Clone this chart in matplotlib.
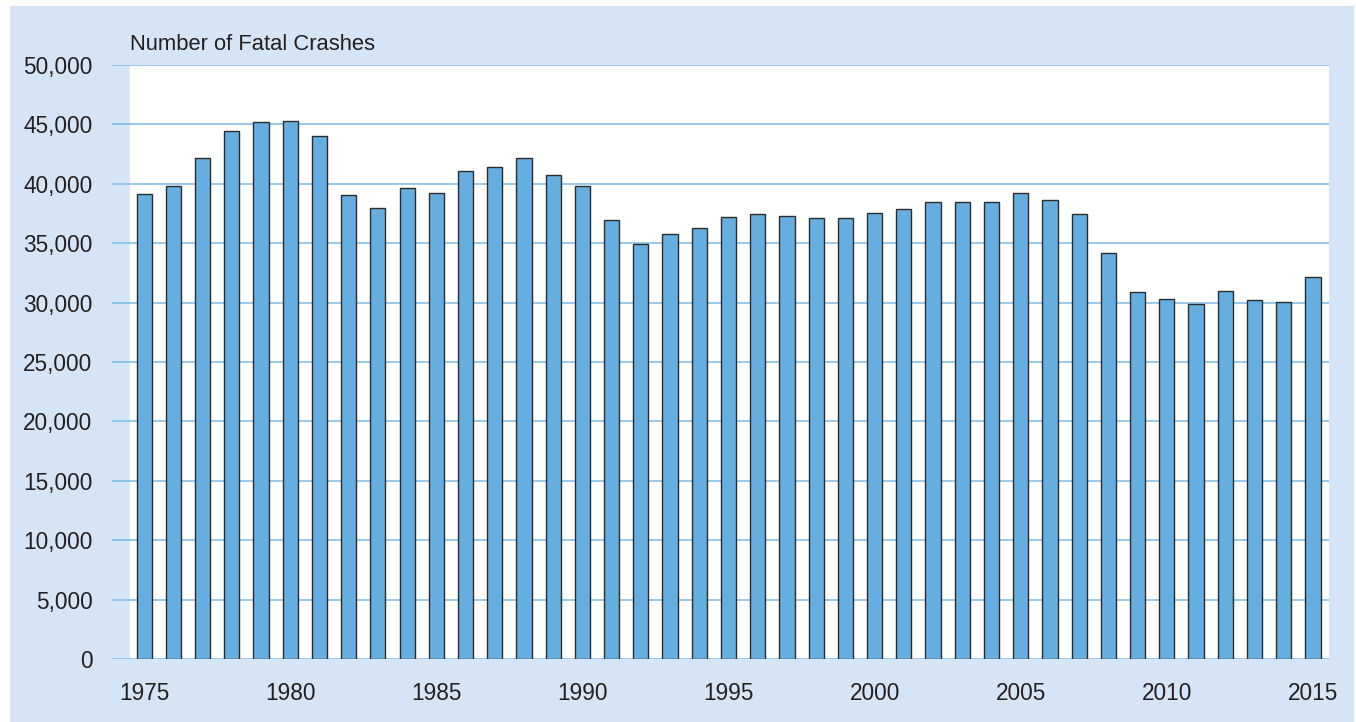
import matplotlib.pyplot as plt
from matplotlib.patches import Rectangle
from matplotlib.ticker import FuncFormatter

plt.rcParams['font.family'] = ['Liberation Sans', 'DejaVu Sans']

years = list(range(1975, 2016))
crashes = [39161, 39804, 42211, 44433, 45208, 45284, 44000, 39092, 37976, 39631,
           39196, 41090, 41438, 42130, 40741, 39836, 36937, 34942, 35780, 36254,
           37241, 37494, 37324, 37107, 37140, 37526, 37862, 38491, 38477, 38444,
           39252, 38648, 37435, 34172, 30862, 30296, 29867, 31006, 30202, 30056,
           32166]
yticks = [0, 5000, 10000, 15000, 20000, 25000, 30000, 35000, 40000, 45000, 50000]
xlabels = [1975, 1980, 1985, 1990, 1995, 2000, 2005, 2010, 2015]

W, H = 1356, 722
panel = '#d6e5f5'
fig = plt.figure(figsize=(W / 100, H / 100), dpi=100)
fig.patch.set_facecolor('white')
fig.patches.append(Rectangle((10 / W, 0), (1354 - 10) / W, (H - 6) / H,
                             transform=fig.transFigure, facecolor=panel,
                             edgecolor='none', zorder=-5))

# axes span includes the grid stub left of the white plot area
left, right, top, bottom = 112, 1329, 65, 659
ax = fig.add_axes([left / W, 1 - bottom / H, (right - left) / W, (bottom - top) / H])
ax.set_facecolor(panel)

x = [y - 1975 for y in years]
ax.set_xlim(-1.1, 40.55)
ax.set_ylim(0, 50000)
ax.axvspan(-0.5, 40.55, color='white', zorder=0)

for t in yticks:
    ax.axhline(t, color='#7cb9e6', linewidth=1.1, zorder=1)

ax.bar(x, crashes, width=0.52, color='#66aee0', edgecolor='#2b2b2b',
       linewidth=1.0, zorder=3)

ax.set_yticks(yticks)
ax.yaxis.set_major_formatter(FuncFormatter(lambda v, p: f'{int(v):,}'))
ax.set_xticks([y - 1975 for y in xlabels])
ax.set_xticklabels([str(y) for y in xlabels])
ax.tick_params(axis='both', length=0, labelsize=16.3, colors='#231f20')
ax.tick_params(axis='y', pad=14)
ax.tick_params(axis='x', pad=16.5)
for s in ax.spines.values():
    s.set_visible(False)

fig.text(130 / W, 1 - 44 / H, 'Number of Fatal Crashes', fontsize=15.8,
         color='#231f20', ha='left', va='center')

fig.savefig('out.png', dpi=100, facecolor=fig.get_facecolor())
